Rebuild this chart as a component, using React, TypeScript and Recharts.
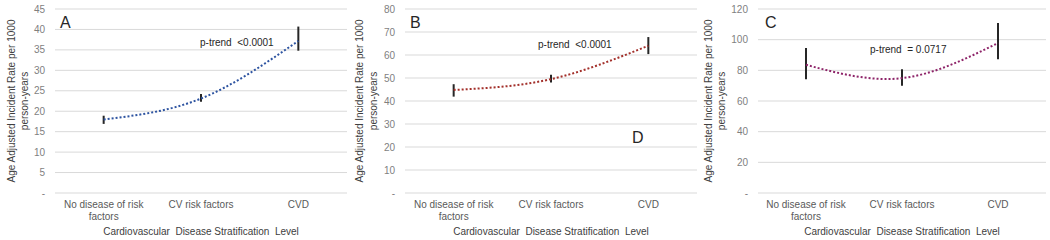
import { LineChart, Line, XAxis, YAxis, CartesianGrid, ErrorBar } from 'recharts';

const categories = ['No disease of risk factors', 'CV risk factors', 'CVD'];

// panel A
const rateA = [18.0, 23.1, 37.2];
const lowA = [16.9, 22.3, 34.8];
const highA = [18.9, 24.2, 40.7];
const ticksA = [0, 5, 10, 15, 20, 25, 30, 35, 40, 45];

// panel B
const rateB = [44.8, 49.5, 64.0];
const lowB = [41.9, 48.0, 60.4];
const highB = [47.3, 51.4, 67.8];
const ticksB = [0, 10, 20, 30, 40, 50, 60, 70, 80];

// panel C
const rateC = [83.6, 74.9, 97.8];
const lowC = [74.2, 70.0, 87.3];
const highC = [94.5, 80.7, 110.8];
const ticksC = [0, 20, 40, 60, 80, 100, 120];

const FONT = '"Liberation Sans", Arial, sans-serif';
const H = 240;
const TOP = 9;
const X_AXIS_H = 47;

function CategoryTick({ x, y, payload }: any) {
  const words = String(payload.value).split(' ');
  const lines: string[] = [];
  let cur = '';
  words.forEach((w) => {
    const next = cur ? cur + ' ' + w : w;
    if (next.length > 18 && cur) {
      lines.push(cur);
      cur = w;
    } else cur = next;
  });
  lines.push(cur);
  return (
    <text x={x} y={y + 14.5} textAnchor="middle" fill="#595959" fontSize={10} fontFamily={FONT}>
      {lines.map((l, i) => (
        <tspan key={i} x={x} dy={i === 0 ? 0 : 12}>{l}</tspan>
      ))}
    </text>
  );
}

type PanelProps = {
  left: number;
  width: number;
  axisW: number;
  right: number;
  rate: number[];
  low: number[];
  high: number[];
  ticks: number[];
  color: string;
  labelX: [number, number];
};

function Panel({ left, width, axisW, right, rate, low, high, ticks, color, labelX }: PanelProps) {
  const data = categories.map((c, i) => ({
    name: c,
    rate: rate[i],
    ci: [rate[i] - low[i], high[i] - rate[i]],
  }));
  const plotW = width - axisW - right;
  const pad = plotW / categories.length / 2;
  const plotCx = axisW + plotW / 2;
  const plotCy = TOP + (H - TOP - X_AXIS_H) / 2;

  return (
    <div style={{ position: 'absolute', left, top: 0 }}>
      <LineChart width={width} height={H} data={data} margin={{ top: TOP, right, bottom: 0, left: 0 }}>
        <CartesianGrid vertical={false} stroke="#d9d9d9" strokeWidth={1} />
        <XAxis
          dataKey="name"
          axisLine={false}
          tickLine={false}
          tickSize={0}
          tickMargin={0}
          height={X_AXIS_H}
          padding={{ left: pad, right: pad }}
          interval={0}
          tick={<CategoryTick />}
        />
        <YAxis
          width={axisW}
          domain={[0, ticks[ticks.length - 1]]}
          ticks={ticks}
          interval={0}
          axisLine={false}
          tickLine={false}
          tickSize={0}
          tickMargin={10}
          tick={{ fill: '#7f7f7f', fontSize: 10, fontFamily: FONT }}
          tickFormatter={(v: number) => (v === 0 ? '-' : String(v))}
        />
        <Line
          type="natural"
          dataKey="rate"
          stroke={color}
          strokeWidth={2}
          strokeDasharray="2 2"
          dot={false}
          activeDot={false}
          isAnimationActive={false}
        >
          <ErrorBar dataKey="ci" width={0} stroke="#262626" strokeWidth={2} direction="y" />
        </Line>
      </LineChart>
      <svg width={width} height={H} style={{ position: 'absolute', left: 0, top: 0, pointerEvents: 'none' }}>
        <text
          x={labelX[0]}
          y={plotCy}
          transform={`rotate(-90, ${labelX[0]}, ${plotCy})`}
          textAnchor="middle"
          dominantBaseline="central"
          fontSize={10}
          fontFamily={FONT}
          fill="#404040"
        >
          Age Adjusted Incident Rate per 1000
        </text>
        <text
          x={labelX[1]}
          y={plotCy}
          transform={`rotate(-90, ${labelX[1]}, ${plotCy})`}
          textAnchor="middle"
          dominantBaseline="central"
          fontSize={10}
          fontFamily={FONT}
          fill="#404040"
        >
          person-years
        </text>
        <text
          x={plotCx}
          y={234.5}
          textAnchor="middle"
          fontSize={10}
          fontFamily={FONT}
          fill="#404040"
          style={{ whiteSpace: 'pre' }}
        >
          {'Cardiovascular  Disease Stratification  Level'}
        </text>
      </svg>
    </div>
  );
}

export default function App() {
  const txt = { fontFamily: FONT, fill: '#262626' };
  return (
    <div style={{ position: 'absolute', left: 0, top: 0, width: 1050, height: H, background: '#fff', overflow: 'hidden' }}>
      <Panel left={0} width={348} axisW={55} right={1} rate={rateA} low={lowA} high={highA} ticks={ticksA} color="#2E54A1" labelX={[11, 24]} />
      <Panel left={348} width={350} axisW={57} right={1} rate={rateB} low={lowB} high={highB} ticks={ticksB} color="#A3302B" labelX={[11, 25]} />
      <Panel left={698} width={350} axisW={60} right={2} rate={rateC} low={lowC} high={highC} ticks={ticksC} color="#8E2469" labelX={[10, 23]} />
      <svg width={1050} height={H} style={{ position: 'absolute', left: 0, top: 0, pointerEvents: 'none' }}>
        <text x={60} y={28} fontSize={16} {...txt}>A</text>
        <text x={200} y={46} fontSize={10} {...txt} style={{ whiteSpace: 'pre' }}>{'p-trend  <0.0001'}</text>
        <text x={410} y={27.5} fontSize={16} {...txt}>B</text>
        <text x={538} y={48} fontSize={10} {...txt} style={{ whiteSpace: 'pre' }}>{'p-trend  <0.0001'}</text>
        <text x={632} y={143} fontSize={16} {...txt}>D</text>
        <text x={765} y={27.5} fontSize={16} {...txt}>C</text>
        <text x={870} y={53} fontSize={10} {...txt} style={{ whiteSpace: 'pre' }}>{'p-trend  = 0.0717'}</text>
      </svg>
    </div>
  );
}
